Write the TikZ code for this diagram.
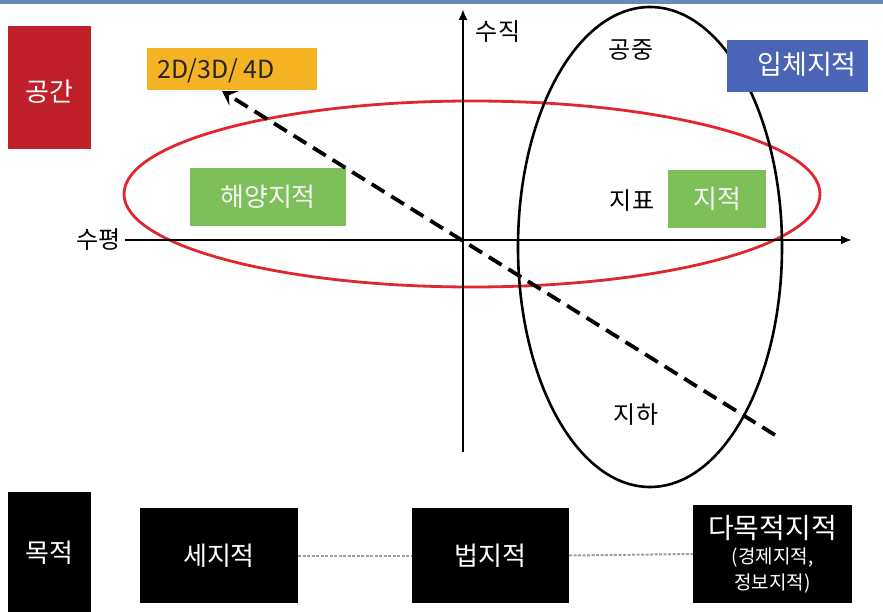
\documentclass[tikz,border=0pt]{standalone}
\usepackage{fontspec}
\setmainfont{Noto Sans CJK KR}
\newfontfamily\kr{Noto Sans CJK KR}
\usetikzlibrary{arrows.meta}
\definecolor{spacered}{HTML}{C0202A}
\definecolor{dimorange}{HTML}{F5B324}
\definecolor{solidblue}{HTML}{4A65B5}
\definecolor{landgreen}{HTML}{7DC05A}
\definecolor{topstrip}{HTML}{6A8CB2}
\definecolor{ovalred}{HTML}{E0262E}
\tikzset{
  x=1pt, y=-1pt,
  cbox/.style={inner sep=0pt, font=\kr\fontsize{26}{28}\selectfont},
  plain/.style={inner sep=0pt, font=\kr\fontsize{24}{26}\selectfont, text=black},
  axis/.style={line width=2.4pt, -{Latex[length=11pt,width=9pt]}},
  blackbox/.style={fill=black, text=white, inner sep=0pt, font=\kr\fontsize{26}{28}\selectfont},
  linkline/.style={draw=gray!75, line width=2pt, dash pattern=on 3pt off 1.5pt}
}
\begin{document}
\begin{tikzpicture}
\useasboundingbox (0,0) rectangle (883,612);
\fill[white] (0,0) rectangle (883,612);
\fill[topstrip] (0,0) rectangle (883,4);

% ellipses
\draw[ovalred, line width=2.8pt] (472,194) ellipse [x radius=348, y radius=93];
\draw[black, line width=2.6pt] (650,247) ellipse [x radius=132, y radius=240];

% boxes
\node[cbox, fill=spacered, text=white, minimum width=83pt, minimum height=123pt] (space) at (49,87.5) {};
\node[cbox, text=white] (spacetxt) at (49,92) {공간};
\node[cbox, fill=dimorange, minimum width=170pt, minimum height=42pt] (dim) at (232,69) {};
\node[cbox, text=black!85, anchor=west, font=\kr\fontsize{25}{27}\selectfont] (dimtxt) at (157,71) {2D/3D/ 4D};
\node[cbox, fill=solidblue, text=white, minimum width=141pt, minimum height=52pt] (solid) at (797.5,66) {};
\node[cbox, text=white, font=\kr\fontsize{27}{29}\selectfont] (solidtxt) at (807,64) {입체지적};
\node[cbox, fill=landgreen, text=white!92!gray, minimum width=156pt, minimum height=58pt] (sea) at (268,197) {해양지적};
\node[cbox, fill=landgreen, text=white!92!gray, minimum width=98pt, minimum height=58pt] (cad) at (717,199) {지적};

% axes
\coordinate (hstart) at (125,240);
\coordinate (hend) at (852,240);
\coordinate (vstart) at (463,452);
\coordinate (vend) at (463,9);
\draw[axis] (hstart) -- (hend);
\draw[axis] (vstart) -- (vend);

% labels
\node[plain, anchor=east] (horiz) at (121,240) {수평};
\node[plain] (vert) at (498,32) {수직};
\node[plain] (air) at (631,50) {공중};
\node[plain] (surf) at (632,201) {지표};
\node[plain] (under) at (636,415) {지하};

% dashed arrow
\coordinate (dstart) at (775,435);
\coordinate (dtip) at (222,91);
\draw[line width=3.8pt, dash pattern=on 15pt off 8pt, -{Stealth[length=14pt,width=17pt,inset=6pt]}] (dstart) -- (dtip);

% bottom row
\node[blackbox, minimum width=83pt, minimum height=122pt] (purpose) at (49.5,553) {목적};
\node[blackbox, minimum width=158pt, minimum height=95pt] (tax) at (219,555.5) {세지적};
\node[blackbox, minimum width=157pt, minimum height=95pt] (legal) at (490.5,555.5) {법지적};
\node[blackbox, minimum width=159pt, minimum height=98pt] (multi) at (772.5,554) {};
\node[inner sep=0pt, text=white, font=\kr\fontsize{28}{30}\selectfont] (multit1) at (772.5,528) {다목적지적};
\node[inner sep=0pt, text=white, font=\kr\fontsize{19}{21}\selectfont] (multit2) at (772.5,558) {(경제지적,};
\node[inner sep=0pt, text=white, font=\kr\fontsize{19}{21}\selectfont] (multit3) at (772.5,584) {정보지적)};
\draw[linkline] (tax.east) -- (legal.west);
\draw[linkline] (legal.east) -- (multi.west);
\end{tikzpicture}
\end{document}
